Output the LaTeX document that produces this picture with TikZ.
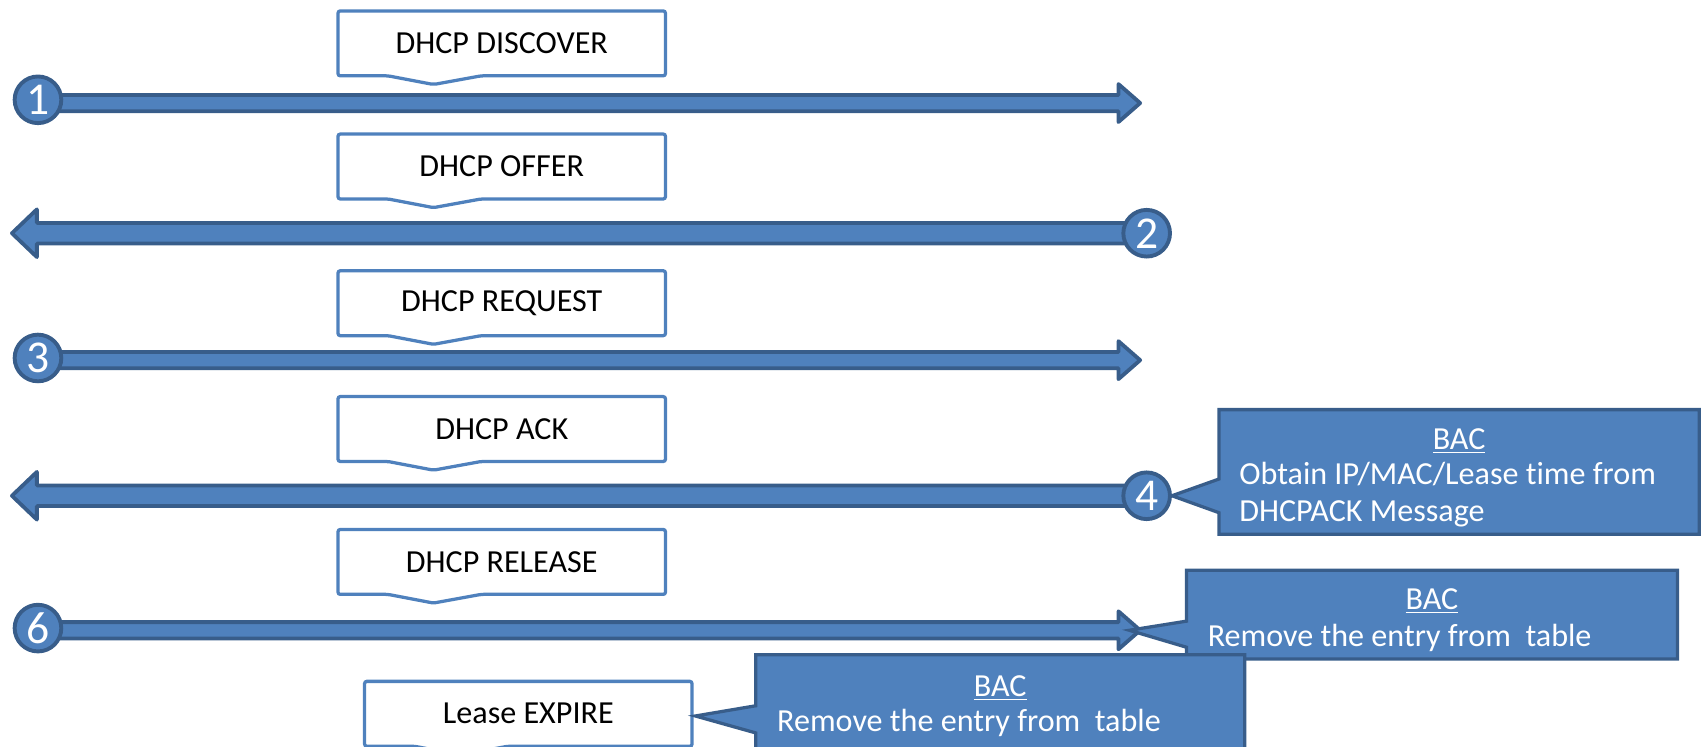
\documentclass[tikz,border=0pt]{standalone}
\usepackage{fontspec}
\setmainfont{Carlito}[Ligatures=NoCommon]
\usetikzlibrary{calc}
\definecolor{accent}{HTML}{4F81BD}
\definecolor{accentdark}{HTML}{385D8A}
\pgfdeclarelayer{shapes}
\pgfsetlayers{shapes,main}

\tikzset{
  numdot/.style={circle, fill=accent, draw=accentdark, line width=1.8pt,
    minimum size=21.5pt, inner sep=0pt, text=white, font=\fontsize{21}{21}\selectfont},
  arrowbody/.style={fill=accent, draw=accentdark, line width=1.75pt, line join=round},
  msgnode/.style={minimum width=150.5pt, minimum height=29.5pt, inner sep=0pt,
    font=\fontsize{14.8}{17}\selectfont},
  msgline/.style={fill=white, draw=accent, line width=1.5pt, rounded corners=1pt},
  bacnode/.style={inner sep=0pt},
  bacline/.style={fill=accent, draw=accentdark, line width=1.5pt, line join=miter},
  bactext/.style={text=white, inner sep=0pt, font=\fontsize{14.8}{17}\selectfont},
}

% block arrow from a start point to a tip:
% #1 start, #2 tip, #3 head length (signed), #4 half shaft, #5 half head
\newcommand\flowarrow[5]{%
  \begin{pgfonlayer}{shapes}
  \draw[arrowbody] ($(#1)+(0,-#4)$) -- ($(#2)+(#3,-#4)$) -- ($(#2)+(#3,-#5)$)
    -- (#2) -- ($(#2)+(#3,#5)$) -- ($(#2)+(#3,#4)$) -- ($(#1)+(0,#4)$) -- cycle;
  \end{pgfonlayer}}

% white message box with a small notch on its lower edge
\newcommand\msgshape[1]{%
  \begin{pgfonlayer}{shapes}
  \draw[msgline] (#1.north west) -- (#1.north east) -- (#1.south east)
    -- ($(#1.south west)+(132,0)$) -- ($(#1.south west)+(88,8)$)
    -- ($(#1.south west)+(46,0)$) -- (#1.south west) -- cycle;
  \end{pgfonlayer}}

% filled note box with a pointer on its left side (#2,#3 offsets from top, #4 tip)
\newcommand\bacshape[4]{%
  \begin{pgfonlayer}{shapes}
  \draw[bacline] (#1.north west) -- (#1.north east) -- (#1.south east) -- (#1.south west)
    -- ($(#1.north west)+(0,#3)$) -- (#4) -- ($(#1.north west)+(0,#2)$) -- cycle;
  \end{pgfonlayer}}

\begin{document}
\begin{tikzpicture}[x=0.5pt, y=-0.5pt]
\useasboundingbox (0,0) rectangle (1568,688);

% numbered dots
\node[numdot] (n1) at (35,92) {1};
\node[numdot] (n2) at (1057,215) {2};
\node[numdot] (n3) at (35,330) {3};
\node[numdot] (n4) at (1057,457) {4};
\node[numdot] (n6) at (35,579) {6};

% arrow ends
\coordinate (s1) at (35,95);   \coordinate (t1) at (1051,95);
\coordinate (s2) at (1057,215); \coordinate (t2) at (11,215);
\coordinate (s3) at (35,332);  \coordinate (t3) at (1051,332);
\coordinate (s4) at (1057,457); \coordinate (t4) at (11,457);
\coordinate (s6) at (35,581);  \coordinate (t6) at (1051,581);

\flowarrow{s1}{t1}{-20}{7.5}{17.5}
\flowarrow{s2}{t2}{23}{9.5}{22}
\flowarrow{s3}{t3}{-20}{7.5}{17.5}
\flowarrow{s4}{t4}{23}{9.5}{22}
\flowarrow{s6}{t6}{-20}{7.5}{17.5}

% message labels
\node[msgnode] (m1) at (462.5,40) {DHCP DISCOVER};
\node[msgnode] (m2) at (462.5,153.5) {DHCP OFFER};
\node[msgnode] (m3) at (462.5,279.5) {DHCP REQUEST};
\node[msgnode] (m4) at (462.5,395.5) {DHCP ACK};
\node[msgnode] (m5) at (462.5,518) {DHCP RELEASE};
\node[msgnode] (m6) at (487,658) {Lease EXPIRE};
\msgshape{m1}
\msgshape{m2}
\msgshape{m3}
\msgshape{m4}
\msgshape{m5}
\msgshape{m6}

% BAC notes
\node[bacnode, minimum width=221pt, minimum height=57pt] (b1) at (1345,435) {};
\node[bacnode, minimum width=226pt, minimum height=40.5pt] (b2) at (1320,566.5) {};
\node[bacnode, minimum width=225pt, minimum height=53pt] (b3) at (922,657) {};

\coordinate (p2) at (1041,581);
\coordinate (p3) at (641,660);

\bacshape{b1}{64}{95}{n4.east}
\bacshape{b2}{47}{71}{p2}
\bacshape{b3}{47}{72}{p3}

\node[bactext, anchor=base] (b1t) at (1345,414) {\underline{BAC}};
\node[bactext, anchor=base west] (b1a) at (1142,447) {Obtain IP/MAC/Lease time from};
\node[bactext, anchor=base west] (b1b) at (1142,481) {DHCPACK Message};

\node[bactext, anchor=base] (b2t) at (1320,562) {\underline{BAC}};
\node[bactext, anchor=base west] (b2a) at (1113,596) {Remove the entry from\ \ table};

\node[bactext, anchor=base] (b3t) at (922,642) {\underline{BAC}};
\node[bactext, anchor=base west] (b3a) at (716,674) {Remove the entry from\ \ table};
\end{tikzpicture}
\end{document}
